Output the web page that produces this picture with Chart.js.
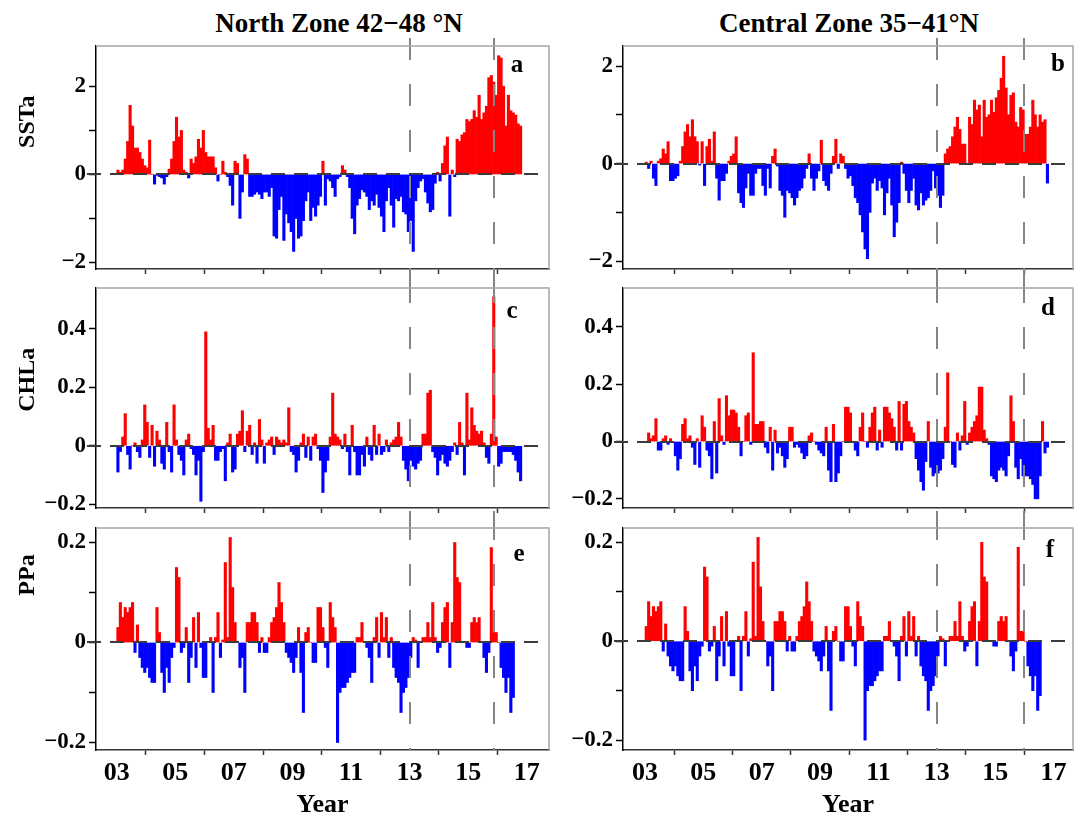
<!DOCTYPE html>
<html><head><meta charset="utf-8">
<script src="https://cdn.jsdelivr.net/npm/chart.js@4.4.1/dist/chart.umd.min.js"></script>
<style>
body{margin:0;background:#fff;width:1074px;height:821px;position:relative;overflow:hidden;font-family:"Liberation Serif","Times New Roman",serif;}
canvas{position:absolute;}
.ct{position:absolute;font-weight:bold;font-size:27px;line-height:30px;white-space:nowrap;transform:translateX(-50%);color:#000;}
</style></head><body>
<div class="ct" style="left:339px;top:8px">North Zone 42−48 °N</div>
<div class="ct" style="left:849px;top:8px">Central Zone 35−41°N</div>
<script>
// ---------- data (monthly anomalies, Jan 2003 – Oct 2016) ----------
const yearStart = 2003;
const yearTicks = [2003, 2005, 2007, 2009, 2011, 2013, 2015, 2017];
const yearTickLabels = ['03', '05', '07', '09', '11', '13', '15', '17'];
const eventYearsNorth = [2013, 2015.88];
const eventYearsCentral = [2013, 2016];

const sstTicks = [-2, -1, 0, 1, 2];
const sstTickLabels = ['−2', '', '0', '', '2'];
const chlTicks = [-0.2, 0, 0.2, 0.4];
const chlTickLabels = ['−0.2', '0', '0.2', '0.4'];
const ppTicks = [-0.2, -0.1, 0, 0.1, 0.2];
const ppTickLabels = ['−0.2', '', '0', '', '0.2'];

const sstNorth = [
  0.1, 0.05, 0.1, 0.35, 0.75, 1.57, 1.1, 0.6, 0.6, 0.5, 0.35, 0.2,
  0.15, 0.78, 0.0, -0.22, -0.02, -0.05, -0.08, -0.22, -0.05, 0.12, 0.35, 0.75,
  1.3, 0.85, 1.0, 0.1, 0.05, -0.08, 0.35, 0.25, 0.4, 0.8, 0.6, 1.0,
  0.5, 0.4, 0.4, 0.4, 0.15, -0.15, 0.0, 0.3, 0.05, -0.05, -0.25, -0.7,
  0.3, 0.25, -1.0, -0.4, 0.45, 0.35, -0.5, -0.5, -0.45, -0.4, -0.45, -0.55,
  -0.4, -0.4, -0.5, -0.3, -1.4, -1.45, -0.8, -0.5, -1.5, -0.9, -1.1, -1.3,
  -1.75, -1.0, -1.45, -1.4, -1.05, -0.6, -0.4, -1.05, -0.75, -0.95, -0.7, -0.5,
  0.3, -0.7, -0.1, -0.15, -0.3, -0.5, -0.1, -0.05, 0.2, 0.1, -0.05, -0.3,
  -1.0, -1.35, -0.7, -0.55, -0.35, -0.4, -0.5, -0.8, -0.6, -0.7, -0.45, -0.75,
  -0.95, -1.3, -0.6, -0.3, -0.7, -1.2, -0.55, -0.6, -0.5, -0.85, -0.9, -1.3,
  -1.05, -1.75, -0.6, -0.3, -0.15, -0.1, -0.4, -0.65, -0.85, -0.8, -0.2, 0.05,
  -0.15, 0.25, 0.65, 0.85, -0.95, 0.1, -0.05, 0.8, 0.75, 0.9, 0.95, 1.25,
  1.2, 1.25, 1.45, 1.3, 1.8, 1.25, 1.4, 1.55, 2.2, 2.25, 2.1, 1.8,
  2.7, 2.65, 2.0, 1.1, 1.8, 1.45, 1.4, 1.35, 1.15, 1.1
];
const sstCentral = [
  0.03, -0.1, 0.05, -0.3, -0.45, 0.05, 0.1, 0.3, 0.2, 0.45, -0.35, -0.35,
  -0.3, -0.25, 0.05, 0.35, 0.65, 0.8, 0.55, 0.9, 0.55, 0.45, -0.03, 0.45,
  -0.45, 0.35, 0.5, 0.05, 0.65, -0.3, -0.75, -0.35, -0.35, -0.2, 0.05, 0.15,
  0.2, 0.55, -0.6, -0.8, -0.9, -0.5, -0.2, -0.65, -0.65, -0.2, -0.1, -0.1,
  -0.45, -0.65, -0.1, -0.5, 0.15, 0.3, -0.05, -0.55, -0.65, -1.1, -0.55, -0.6,
  -0.7, -0.85, -0.7, -0.55, -0.5, -0.3, -0.1, 0.2, -0.3, -0.55, -0.3, -0.15,
  0.48, -0.35, -0.45, -0.55, -0.2, 0.15, 0.5, -0.1, 0.2, 0.15, -0.1, -0.3,
  -0.25, -0.45, -0.7, -0.8, -1.05, -1.4, -1.75, -1.95, -1.0, -0.4, -0.3, -0.55,
  -0.35, -0.5, -1.05, -0.6, -0.3, -0.85, -1.5, -1.2, -0.8, 0.03, -0.2, -0.55,
  -0.8, -0.55, -0.3, -0.85, -0.95, -0.6, -0.85, -0.75, -0.7, -0.55, -0.15, -0.5,
  -0.65, -0.9, -0.65, 0.2, 0.3, 0.35, 0.55, 0.75, 0.95, 0.7, 0.4, 0.4,
  -0.02, 0.95, 0.8, 1.3, 1.1, 1.2, 0.55, 1.3, 0.95, 1.0, 1.3, 1.05,
  1.35, 1.5, 1.75, 2.2, 1.55, 1.0, 1.4, 1.45, 0.85, 0.75, 1.15, 1.1,
  0.6, 0.6, 0.75, 1.3, 1.0, 0.75, 1.0, 0.85, 0.9, -0.4
];
const chlNorth = [
  -0.09, -0.02, 0.03, 0.11, -0.03, -0.08, 0.0, 0.01, -0.02, -0.04, 0.02, 0.14,
  0.08, -0.04, 0.07, -0.07, 0.05, 0.02, -0.06, -0.08, 0.08, -0.02, -0.09, 0.14,
  0.02, -0.03, -0.05, -0.1, 0.02, 0.04, -0.01, -0.03, -0.1, -0.05, -0.19, -0.02,
  0.39, 0.06, 0.02, 0.07, -0.05, -0.05, -0.02, -0.01, -0.12, 0.01, 0.04, -0.09,
  -0.08, 0.04, 0.05, 0.12, -0.02, 0.05, 0.07, -0.03, 0.01, -0.06, 0.09, 0.02,
  -0.06, 0.01, 0.02, 0.03, -0.03, 0.03, 0.02, 0.01, 0.02, 0.01, 0.13, -0.02,
  -0.03, -0.09, -0.05, 0.01, 0.04, -0.04, 0.03, -0.05, 0.03, 0.04, -0.01, -0.05,
  -0.16, -0.09, -0.05, 0.03, 0.18, 0.04, 0.03, 0.02, -0.01, 0.04, -0.02, -0.1,
  0.07, -0.02, -0.1, -0.1, -0.03, -0.07, 0.03, -0.03, -0.05, 0.07, -0.03, 0.04,
  -0.03, -0.02, 0.02, -0.02, 0.01, 0.02, 0.03, 0.08, 0.03, -0.05, -0.08, -0.12,
  -0.05, -0.07, -0.08, -0.06, -0.05, 0.04, 0.04, 0.18, 0.19, -0.02, -0.04, -0.1,
  -0.05, -0.03, -0.06, -0.07, -0.05, -0.02, 0.01, -0.03, 0.08, 0.01, -0.1, 0.18,
  0.02, 0.13, 0.07, 0.05, 0.04, 0.05, 0.01, -0.04, -0.06, 0.04, 0.51, 0.03,
  -0.07, -0.06, -0.02, -0.02, -0.02, -0.02, -0.03, -0.05, -0.09, -0.12
];
const chlCentral = [
  0.0, 0.03, 0.01, 0.02, 0.08, -0.03, -0.03, 0.01, 0.02, -0.01, 0.01, 0.0,
  -0.05, -0.1, -0.06, 0.06, 0.08, 0.01, 0.02, -0.02, -0.08, 0.01, -0.09, 0.09,
  0.05, -0.03, -0.05, -0.13, 0.07, -0.11, 0.15, 0.02, -0.01, 0.16, 0.09, 0.11,
  0.11, 0.1, 0.05, -0.05, 0.0, 0.09, 0.1, -0.01, 0.31, 0.06, 0.06, 0.07,
  0.07, -0.02, -0.04, 0.05, -0.1, 0.04, -0.04, -0.02, -0.05, -0.09, -0.06, 0.05,
  0.05, -0.02, -0.01, -0.02, -0.04, -0.06, -0.05, 0.02, 0.03, 0.0, -0.01, -0.03,
  -0.04, -0.05, 0.05, -0.1, -0.14, 0.06, -0.14, -0.11, -0.05, 0.0, 0.12, 0.12,
  0.1, 0.0, -0.03, -0.05, 0.05, 0.1, 0.0, -0.02, 0.05, 0.1, 0.12, -0.03,
  0.04, -0.02, 0.12, 0.12, 0.1, 0.08, 0.05, -0.03, 0.14, -0.03, 0.13, 0.14,
  0.07, 0.05, 0.03, -0.06, -0.1, -0.14, -0.17, -0.07, 0.07, -0.09, -0.12, -0.11,
  -0.11, -0.1, -0.06, 0.05, 0.24, 0.0, -0.08, -0.09, 0.03, -0.03, 0.02, 0.14,
  -0.01, 0.03, 0.05, 0.07, 0.09, 0.19, 0.19, 0.04, 0.01, -0.01, -0.12, -0.13,
  -0.14, -0.1, -0.09, -0.1, -0.12, -0.05, 0.16, 0.07, -0.09, -0.13, -0.06, -0.12,
  -0.12, -0.12, -0.13, -0.15, -0.2, -0.2, -0.12, 0.07, -0.04, -0.02
];
const ppNorth = [
  0.03, 0.08, 0.05, 0.07, 0.06, 0.07, 0.08, -0.02, 0.035, -0.03, -0.05, -0.06,
  -0.05, -0.07, -0.08, -0.08, 0.07, 0.02, -0.06, -0.1, -0.05, -0.08, -0.03, -0.01,
  0.15, 0.13, -0.02, -0.01, 0.03, -0.08, -0.03, 0.05, -0.05, 0.06, -0.01, -0.07,
  -0.07, 0.0, 0.01, -0.1, 0.01, 0.06, -0.03, 0.005, 0.16, 0.01, 0.21, 0.11,
  0.04, 0.0, -0.05, -0.03, -0.1, 0.04, 0.04, 0.06, 0.06, 0.04, -0.02, 0.01,
  -0.02, -0.02, 0.01, 0.04, 0.05, 0.07, 0.12, 0.08, 0.04, -0.02, -0.03, -0.04,
  -0.06, -0.03, 0.03, -0.06, -0.14, 0.02, 0.03, 0.0, -0.04, -0.04, 0.07, 0.07,
  0.03, -0.01, -0.05, 0.08, 0.05, 0.03, -0.2, -0.1, -0.09, -0.09, -0.08, -0.07,
  -0.06, -0.06, 0.01, 0.01, 0.04, 0.0, -0.01, -0.03, -0.08, 0.01, 0.05, -0.03,
  0.06, 0.01, 0.05, -0.03, 0.01, -0.05, -0.07, -0.08, -0.14, -0.1, -0.09, -0.07,
  -0.03, 0.01, 0.005, -0.05, 0.0, 0.01, 0.01, 0.04, 0.01, 0.08, 0.01, -0.02,
  -0.01, 0.04, 0.07, 0.08, -0.05, 0.04, 0.2, 0.13, 0.12, 0.0, 0.0, -0.01,
  -0.01, 0.04, 0.05, 0.04, 0.05, 0.0, -0.03, -0.06, -0.02, 0.19, 0.02, 0.02,
  0.0, -0.05, -0.07, -0.1, -0.07, -0.14, -0.11, null, null, null
];
const ppCentral = [
  0.03, 0.08, 0.05, 0.07, 0.06, 0.07, 0.08, -0.02, 0.035, -0.03, -0.05, -0.06,
  -0.05, -0.07, -0.08, -0.08, 0.07, 0.02, -0.06, -0.1, -0.05, -0.08, -0.03, -0.01,
  0.15, 0.13, -0.02, -0.01, 0.03, -0.08, -0.03, 0.05, -0.05, 0.06, -0.01, -0.07,
  -0.07, 0.0, 0.01, -0.1, 0.01, 0.06, -0.03, 0.005, 0.16, 0.01, 0.21, 0.11,
  0.04, 0.0, -0.05, -0.03, -0.1, 0.04, 0.04, 0.06, 0.06, 0.04, -0.02, 0.01,
  -0.02, -0.02, 0.01, 0.04, 0.05, 0.07, 0.12, 0.08, 0.04, -0.02, -0.03, -0.04,
  -0.06, -0.03, 0.03, -0.06, -0.14, 0.02, 0.03, 0.0, -0.04, -0.04, 0.07, 0.07,
  0.03, -0.01, -0.05, 0.08, 0.05, 0.03, -0.2, -0.1, -0.09, -0.09, -0.08, -0.07,
  -0.06, -0.06, 0.01, 0.01, 0.04, 0.0, -0.01, -0.03, -0.08, 0.01, 0.05, -0.03,
  0.06, 0.01, 0.05, -0.03, 0.01, -0.05, -0.07, -0.08, -0.14, -0.1, -0.09, -0.07,
  -0.03, 0.01, 0.005, -0.05, 0.0, 0.01, 0.01, 0.04, 0.01, 0.08, 0.01, -0.02,
  -0.01, 0.04, 0.07, 0.08, -0.05, 0.04, 0.2, 0.13, 0.12, 0.0, 0.0, -0.01,
  -0.01, 0.04, 0.05, 0.04, 0.05, 0.0, -0.03, -0.06, -0.02, 0.19, 0.02, 0.02,
  0.0, -0.05, -0.07, -0.1, -0.07, -0.14, -0.11, null, null, null
];

// ---------- layout ----------
const FONT = '"Liberation Serif", "Times New Roman", serif';
const columns = {
  N: {left: 0, width: 560, yW: 96, padRight: 11, xmin: 2002.293, xmax: 2017.761, events: eventYearsNorth},
  C: {left: 560, width: 514, yW: 63, padRight: 1, xmin: 2002.246, xmax: 2017.668, events: eventYearsCentral}
};
const rows = [
  {top: 36, height: 245, padTop: 10, xH: 12, pos: 'top'},
  {top: 281, height: 237, padTop: 7, xH: 10, pos: 'mid'},
  {top: 518, height: 303, padTop: 10, xH: 71, pos: 'bottom'}
];
const panels = [
  {letter: 'a', col: 'N', row: 0, vals: sstNorth, tk: sstTicks, tl: sstTickLabels, ymin: -2.15, ymax: 2.92, yTitle: 'SSTa', yTitleAt: 1.2, lx: 32, ly: 20},
  {letter: 'b', col: 'C', row: 0, vals: sstCentral, tk: sstTicks, tl: sstTickLabels, ymin: -2.16, ymax: 2.41, lx: 15, ly: 19},
  {letter: 'c', col: 'N', row: 1, vals: chlNorth, tk: chlTicks, tl: chlTickLabels, ymin: -0.213, ymax: 0.54, yTitle: 'CHLa', yTitleAt: 0.226, lx: 37, ly: 24},
  {letter: 'd', col: 'C', row: 1, vals: chlCentral, tk: chlTicks, tl: chlTickLabels, ymin: -0.232, ymax: 0.536, lx: 25, ly: 21},
  {letter: 'e', col: 'N', row: 2, vals: ppNorth, tk: ppTicks, tl: ppTickLabels, ymin: -0.215, ymax: 0.229, yTitle: 'PPa', yTitleAt: 0.135, lx: 30, ly: 27},
  {letter: 'f', col: 'C', row: 2, vals: ppCentral, tk: ppTicks, tl: ppTickLabels, ymin: -0.22, ymax: 0.229, lx: 23, ly: 23}
];

const decor = {
  id: 'decor',
  afterDatasetsDraw(chart, args, o) {
    const {ctx, chartArea: ca, scales: {x, y}} = chart;
    ctx.save();
    // event (dashed vertical) lines
    ctx.strokeStyle = '#858585';
    ctx.lineWidth = 2;
    ctx.setLineDash([22, 24]);
    const top = o.pos === 'top' ? ca.top - 8 : 0;
    const bottom = o.pos === 'bottom' ? ca.bottom : chart.height;
    o.events.forEach(v => {
      const px = Math.round(x.getPixelForValue(v));
      ctx.beginPath(); ctx.moveTo(px, top); ctx.lineTo(px, bottom); ctx.stroke();
    });
    // zero dashed line
    const y0 = Math.round(y.getPixelForValue(0));
    ctx.strokeStyle = '#3c3c3c';
    ctx.setLineDash([14, 9]);
    ctx.beginPath(); ctx.moveTo(ca.left - 9, y0); ctx.lineTo(ca.right - 6, y0); ctx.stroke();
    // grey frame top + right
    ctx.setLineDash([]);
    ctx.strokeStyle = '#a5a5a5';
    ctx.lineWidth = 1.5;
    ctx.beginPath(); ctx.moveTo(ca.left, ca.top); ctx.lineTo(ca.right, ca.top); ctx.lineTo(ca.right, ca.bottom); ctx.stroke();
    // panel letter
    ctx.fillStyle = '#000';
    ctx.font = 'bold 25px ' + FONT;
    ctx.textAlign = 'center';
    ctx.textBaseline = 'middle';
    ctx.fillText(o.letter, ca.right - o.lx, ca.top + o.ly);
    // y-axis title
    if (o.yTitle) {
      const ty = y.getPixelForValue(o.yTitleAt);
      ctx.translate(34, ty);
      ctx.rotate(-Math.PI / 2);
      ctx.font = 'bold 24px ' + FONT;
      ctx.textAlign = 'center';
      ctx.textBaseline = 'alphabetic';
      ctx.fillText(o.yTitle, 0, 0);
    }
    ctx.restore();
  }
};

function zeroPad(s) { s.paddingTop = 0; s.paddingBottom = 0; s.paddingLeft = 0; s.paddingRight = 0; }

panels.forEach(p => {
  const c = columns[p.col], r = rows[p.row];
  const cv = document.createElement('canvas');
  cv.width = c.width; cv.height = r.height;
  cv.style.left = c.left + 'px'; cv.style.top = r.top + 'px';
  cv.style.width = c.width + 'px'; cv.style.height = r.height + 'px';
  document.body.appendChild(cv);
  const isBottom = r.pos === 'bottom';
  new Chart(cv, {
    type: 'bar',
    data: {
      datasets: [{
        data: p.vals.map((v, i) => ({x: yearStart + (i + 0.5) / 12, y: v})),
        backgroundColor: ctx => (ctx.parsed && ctx.parsed.y < 0) ? '#0000ff' : '#ff0000',
        borderWidth: 0,
        barPercentage: 1,
        categoryPercentage: 1
      }]
    },
    options: {
      animation: false,
      responsive: false,
      devicePixelRatio: 1,
      layout: {padding: {top: r.padTop, right: c.padRight, left: 0, bottom: 0}},
      plugins: {
        legend: {display: false},
        tooltip: {enabled: false},
        decor: {letter: p.letter, lx: p.lx, ly: p.ly, yTitle: p.yTitle, yTitleAt: p.yTitleAt, events: c.events, pos: r.pos}
      },
      scales: {
        x: {
          type: 'linear', min: c.xmin, max: c.xmax, offset: false,
          grid: {drawOnChartArea: false, drawTicks: true, tickLength: 5, tickColor: '#333', tickWidth: 1.5},
          border: {display: true, color: '#333', width: 1.5},
          ticks: {
            display: isBottom, color: '#000', padding: 3, maxRotation: 0, autoSkip: false,
            font: {family: FONT, size: 26, weight: 'bold'},
            callback: (v, i) => yearTickLabels[i]
          },
          title: {display: isBottom, text: 'Year', color: '#000', font: {family: FONT, size: 26, weight: 'bold'}, padding: {top: 2, bottom: 0}},
          afterBuildTicks: s => { s.ticks = yearTicks.map(v => ({value: v})); },
          afterFit: s => { s.height = r.xH; zeroPad(s); }
        },
        y: {
          type: 'linear', min: p.ymin, max: p.ymax,
          grid: {drawOnChartArea: false, drawTicks: true, tickLength: 7, tickColor: '#000', tickWidth: 1.5},
          border: {display: true, color: '#000', width: 1.5},
          ticks: {
            color: '#000', padding: 3, autoSkip: false,
            font: {family: FONT, size: 23, weight: 'bold'},
            callback: (v, i) => p.tl[i]
          },
          afterBuildTicks: s => { s.ticks = p.tk.map(v => ({value: v})); },
          afterFit: s => { s.width = c.yW; zeroPad(s); }
        }
      }
    },
    plugins: [decor]
  });
});
</script>
</body></html>
